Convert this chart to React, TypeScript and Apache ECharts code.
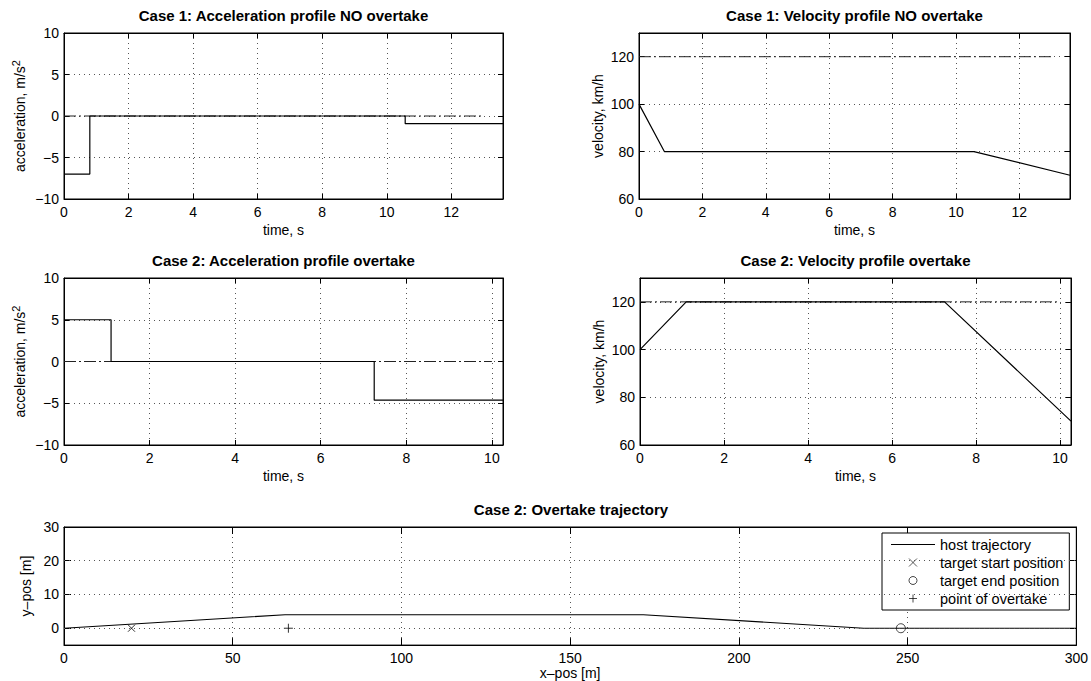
import React, { useEffect, useRef } from 'react';
import * as echarts from 'echarts';

const FONT = '"Liberation Sans", Arial, Helvetica, sans-serif';

// ---- Case 1: no overtake ----
const case1AccelBreaks = [0, 0.8, 10.57, 13.6];
const case1AccelLevels = [-7, 0, -0.93];
const case1VelTimes = [0, 0.8, 10.57, 13.6];
const case1VelValues = [100, 80, 80, 70];

// ---- Case 2: overtake ----
const case2AccelBreaks = [0, 1.1, 7.25, 10.26];
const case2AccelLevels = [5, 0, -4.63];
const case2VelTimes = [0, 1.1, 7.25, 10.26];
const case2VelValues = [100, 120, 120, 70];

// ---- reference (dash-dot) lines ----
const accelReference = 0;
const speedLimit = 120;
const case1RefSpan = [0, 13];
const case2RefSpan = [0, 10];

// ---- Case 2 trajectory ----
const trajX = [0, 65.5, 171.7, 237, 300];
const trajY = [0, 4, 4, 0, 0];
const targetStart = [20, 0];
const targetEnd = [248, 0];
const overtakePoint = [66.5, 0];

// ---- axes ----
const case1TimeMax = 13.6;
const case2TimeMax = 10.26;
const timeStep = 2;
const accelRange = [-10, 10];
const accelStep = 5;
const velRange = [60, 130];
const velStep = 20;
const posXRange = [0, 300];
const posXStep = 50;
const posYRange = [-5, 30];
const posYTicks = [0, 10, 20, 30];

const titles = [
  'Case 1: Acceleration profile NO overtake',
  'Case 1: Velocity profile NO overtake',
  'Case 2: Acceleration profile overtake',
  'Case 2: Velocity profile overtake',
  'Case 2: Overtake trajectory',
];

const legendNames = ['host trajectory', 'target start position', 'target end position', 'point of overtake'];

const grids = [
  { left: 64, top: 33, width: 439, height: 166 },
  { left: 639, top: 33, width: 431, height: 166 },
  { left: 64, top: 278, width: 439, height: 167 },
  { left: 640, top: 278, width: 431, height: 167 },
  { left: 64, top: 527, width: 1014, height: 119 },
];

const BLACK = '#000';
const gridLineStyle = { color: '#555', type: [1, 4], width: 1 };
const refLineStyle = { color: '#222', type: [12, 3, 2, 3], width: 1 };

const minusFmt = (v: number) => String(v).replace('-', '\u2212');

function stepData(breaks: number[], levels: number[]) {
  const d: number[][] = levels.map((v, i) => [breaks[i], v]);
  d.push([breaks[breaks.length - 1], levels[levels.length - 1]]);
  return d;
}

function pairData(xs: number[], ys: number[]) {
  return xs.map((x, i) => [x, ys[i]]);
}

function xAxes(gi: number, min: number, max: number, interval: number, name: string, tickLen: number, showMax: any) {
  const base: any = { type: 'value', gridIndex: gi, min, max, interval };
  const line = { show: true, onZero: false, lineStyle: { color: BLACK, width: 1 } };
  const tick = { show: true, inside: true, length: tickLen, lineStyle: { color: BLACK, width: 1 } };
  return [
    {
      ...base,
      position: 'bottom',
      name,
      nameLocation: 'middle',
      nameGap: 24,
      nameTextStyle: { fontFamily: FONT, fontSize: 14, color: BLACK },
      axisLine: line,
      axisTick: tick,
      axisLabel: { show: true, color: BLACK, fontFamily: FONT, fontSize: 14, margin: 6, showMaxLabel: showMax, formatter: minusFmt },
      splitLine: { show: true, lineStyle: gridLineStyle },
    },
    {
      ...base,
      position: 'top',
      axisLine: line,
      axisTick: tick,
      axisLabel: { show: false },
      splitLine: { show: false },
    },
  ];
}

function yAxes(gi: number, min: number, max: number, interval: any, name: string, nameGap: number, tickLen: number, showMax: any, custom?: number[], rich?: any) {
  const base: any = { type: 'value', gridIndex: gi, min, max };
  if (interval != null) base.interval = interval;
  const line = { show: true, onZero: false, lineStyle: { color: BLACK, width: 1 } };
  const tick: any = { show: true, inside: true, length: tickLen, lineStyle: { color: BLACK, width: 1 } };
  const label: any = { show: true, color: BLACK, fontFamily: FONT, fontSize: 14, margin: 5, showMaxLabel: showMax, formatter: minusFmt };
  if (custom) {
    tick.customValues = custom;
    label.customValues = custom;
  }
  const nts: any = { fontFamily: FONT, fontSize: 14, color: BLACK };
  if (rich) nts.rich = rich;
  return [
    {
      ...base,
      position: 'left',
      name,
      nameLocation: 'middle',
      nameGap,
      nameTextStyle: nts,
      axisLine: line,
      axisTick: tick,
      axisLabel: label,
      splitLine: { show: !custom, lineStyle: gridLineStyle },
    },
    {
      ...base,
      position: 'right',
      axisLine: line,
      axisTick: tick,
      axisLabel: { show: false },
      splitLine: { show: false },
    },
  ];
}

const accelRich = {
  a: { fontFamily: FONT, fontSize: 14, color: BLACK, lineHeight: 20 },
  b: { fontFamily: FONT, fontSize: 11, color: BLACK, verticalAlign: 'top', lineHeight: 20 },
};

function lineSeries(gi: number, data: number[][], extra: any = {}) {
  return {
    type: 'line',
    xAxisIndex: gi * 2,
    yAxisIndex: gi * 2,
    data,
    symbol: 'none',
    showSymbol: false,
    lineStyle: { color: BLACK, width: 1.2 },
    itemStyle: { color: BLACK },
    silent: true,
    ...extra,
  };
}

function refSeries(gi: number, span: number[], value: number) {
  return {
    type: 'line',
    xAxisIndex: gi * 2,
    yAxisIndex: gi * 2,
    data: span.map((x) => [x, value]),
    symbol: 'none',
    showSymbol: false,
    lineStyle: refLineStyle,
    silent: true,
  };
}

const X_MARK = 'path://M0,0L8,8M8,0L0,8';
const PLUS_MARK = 'path://M4,0L4,8M0,4L8,4';
const LINE_ICON = 'path://M0,0L44,0L44,1.2L0,1.2Z';

export default function App() {
  const ref = useRef<HTMLDivElement>(null);

  useEffect(() => {
    if (!ref.current) return;
    const chart = echarts.init(ref.current, null, { renderer: 'svg' });

    const xAxis = [
      ...xAxes(0, 0, case1TimeMax, timeStep, 'time, s', 5, false),
      ...xAxes(1, 0, case1TimeMax, timeStep, 'time, s', 5, false),
      ...xAxes(2, 0, case2TimeMax, timeStep, 'time, s', 5, false),
      ...xAxes(3, 0, case2TimeMax, timeStep, 'time, s', 5, false),
      ...xAxes(4, posXRange[0], posXRange[1], posXStep, 'x\u2013pos [m]', 7, true),
    ];
    (xAxis[8] as any).nameGap = 19;

    const yAxis = [
      ...yAxes(0, accelRange[0], accelRange[1], accelStep, '{a|acceleration, m/s}{b|2}', 34, 5, null, undefined, accelRich),
      ...yAxes(1, velRange[0], velRange[1], velStep, 'velocity, km/h', 34, 5, false),
      ...yAxes(2, accelRange[0], accelRange[1], accelStep, '{a|acceleration, m/s}{b|2}', 34, 5, null, undefined, accelRich),
      ...yAxes(3, velRange[0], velRange[1], velStep, 'velocity, km/h', 34, 5, false),
      ...yAxes(4, posYRange[0], posYRange[1], null, 'y\u2013pos [m]', 28, 7, true, posYTicks),
    ];

    const graphic = grids.map((g, i) => ({
      type: 'text',
      x: g.left + g.width / 2,
      y: g.top - 18,
      silent: true,
      style: {
        text: titles[i],
        align: 'center',
        verticalAlign: 'middle',
        fontFamily: FONT,
        fontSize: 15,
        fontWeight: 'bold',
        fill: BLACK,
      },
    }));

    const markerStyle = { color: 'none', borderColor: BLACK, borderWidth: 1 };

    const series: any[] = [
      refSeries(0, case1RefSpan, accelReference),
      lineSeries(0, stepData(case1AccelBreaks, case1AccelLevels), { step: 'end' }),
      refSeries(1, case1RefSpan, speedLimit),
      lineSeries(1, pairData(case1VelTimes, case1VelValues)),
      refSeries(2, case2RefSpan, accelReference),
      lineSeries(2, stepData(case2AccelBreaks, case2AccelLevels), { step: 'end' }),
      refSeries(3, case2RefSpan, speedLimit),
      lineSeries(3, pairData(case2VelTimes, case2VelValues)),
      lineSeries(4, pairData(trajX, trajY), {
        name: legendNames[0],
        markLine: {
          silent: true,
          symbol: 'none',
          label: { show: false },
          lineStyle: gridLineStyle,
          data: posYTicks.slice(0, posYTicks.length - 1).map((v) => ({ yAxis: v })),
        },
      }),
      {
        type: 'scatter',
        name: legendNames[1],
        xAxisIndex: 8,
        yAxisIndex: 8,
        data: [targetStart],
        symbol: X_MARK,
        symbolSize: 7,
        itemStyle: markerStyle,
        silent: true,
      },
      {
        type: 'scatter',
        name: legendNames[2],
        xAxisIndex: 8,
        yAxisIndex: 8,
        data: [targetEnd],
        symbol: 'circle',
        symbolSize: 9,
        itemStyle: { color: 'none', borderColor: BLACK, borderWidth: 0.9 },
        silent: true,
      },
      {
        type: 'scatter',
        name: legendNames[3],
        xAxisIndex: 8,
        yAxisIndex: 8,
        data: [overtakePoint],
        symbol: PLUS_MARK,
        symbolSize: 9,
        itemStyle: markerStyle,
        silent: true,
      },
    ];

    chart.setOption({
      animation: false,
      backgroundColor: '#fff',
      textStyle: { fontFamily: FONT },
      grid: grids.map((g) => ({ ...g, show: true, borderColor: BLACK, borderWidth: 1, backgroundColor: '#fff', containLabel: false })),
      xAxis,
      yAxis,
      graphic,
      legend: {
        show: true,
        left: 882,
        top: 533,
        orient: 'vertical',
        backgroundColor: '#fff',
        borderColor: BLACK,
        borderWidth: 1,
        borderRadius: 0,
        padding: [4, 6, 4, 9],
        itemGap: 3,
        itemWidth: 44,
        itemHeight: 8,
        selectedMode: false,
        textStyle: { fontFamily: FONT, fontSize: 14.5, color: BLACK },
        data: [
          { name: legendNames[0], icon: LINE_ICON, itemStyle: { color: BLACK, borderWidth: 0 } },
          { name: legendNames[1], icon: X_MARK, itemStyle: { color: 'none', borderColor: BLACK, borderWidth: 0.8 } },
          { name: legendNames[2], icon: 'circle', itemStyle: { color: 'none', borderColor: BLACK, borderWidth: 0.9 } },
          { name: legendNames[3], icon: PLUS_MARK, itemStyle: { color: 'none', borderColor: BLACK, borderWidth: 0.9 } },
        ],
      },
      series,
    });

    return () => chart.dispose();
  }, []);

  return (
    <div
      ref={ref}
      style={{ position: 'absolute', left: 0, top: 0, width: 1091, height: 681, background: '#fff' }}
    />
  );
}
